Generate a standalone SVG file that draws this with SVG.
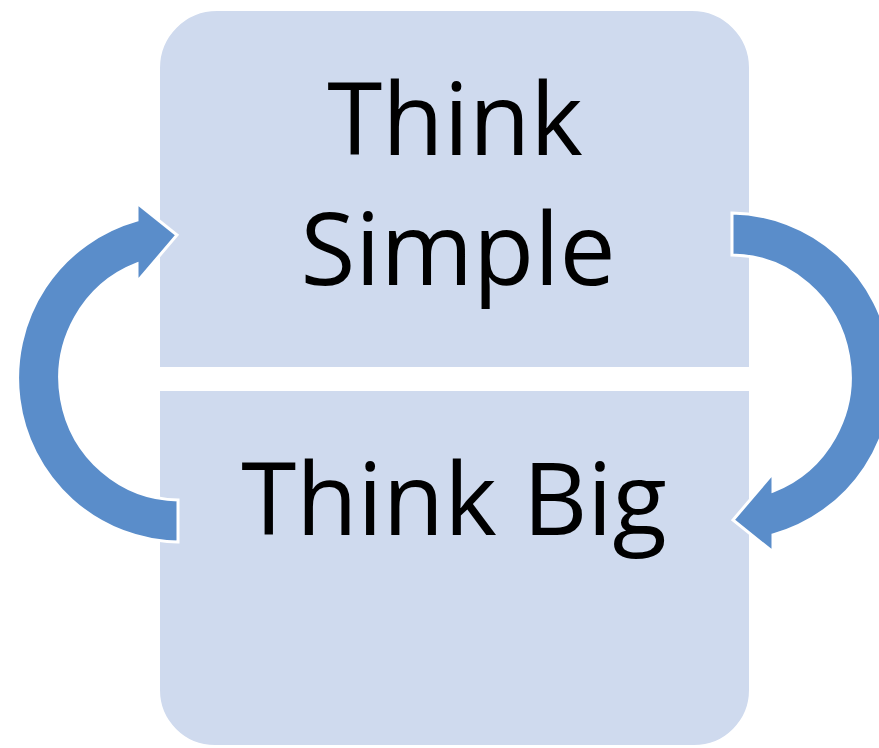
<svg xmlns="http://www.w3.org/2000/svg" width="879" height="748" viewBox="0 0 879 748">
<style>
.box{fill:#CFDAEE;stroke:#FFFFFF;stroke-width:2}
.lbl{font-family:"Open Sans","Liberation Sans",sans-serif;font-size:100px;fill:#000000;text-anchor:middle}
.arrow{fill:#5A8DCA;stroke:#FFFFFF;stroke-width:3;stroke-linejoin:miter}
</style>
<rect width="879" height="748" fill="#FFFFFF"/>
<g id="top-box">
<path class="box" d="M159,368 L159,68 A58,58 0 0 1 217,10 L692,10 A58,58 0 0 1 750,68 L750,368 Z"/>
<text class="lbl" x="455" y="155">Think</text>
<text class="lbl" x="458" y="285">Simple</text>
</g>
<g id="bottom-box">
<path class="box" d="M159,390 L750,390 L750,690 A56,56 0 0 1 694,746 L215,746 A56,56 0 0 1 159,690 Z"/>
<text class="lbl" x="454" y="535">Think Big</text>
</g>
<g id="connectors">
<path id="arrow-left" class="arrow" d="M178,542 A163,164 0 0 1 137,220 L137,203 L177,235 L137,282 L137,264 A120,122 0 0 0 178,500 Z"/>
<path id="arrow-right" class="arrow" transform="rotate(180 455 377.5)" d="M178,542 A163,164 0 0 1 137,220 L137,203 L177,235 L137,282 L137,264 A120,122 0 0 0 178,500 Z"/>
</g>
</svg>
